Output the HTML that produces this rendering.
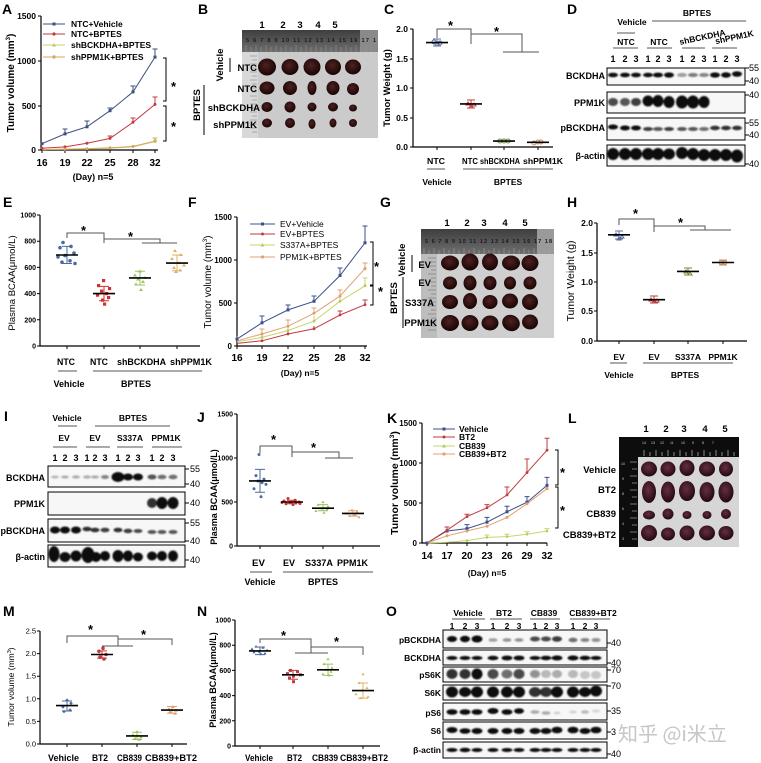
<!DOCTYPE html>
<html><head><meta charset="utf-8">
<style>
html,body{margin:0;padding:0;background:#fff;}
svg{display:block;}
text{font-family:"Liberation Sans","Noto Sans CJK SC",Arial,sans-serif;}
.b{font-weight:bold;}
.n{font-weight:normal;}
</style></head>
<body>
<svg width="761" height="763" viewBox="0 0 761 763" xmlns="http://www.w3.org/2000/svg">
<defs>
<filter id="bl" x="-50%" y="-50%" width="200%" height="200%"><feGaussianBlur stdDeviation="0.9"/></filter>
<radialGradient id="tum" cx="45%" cy="40%" r="60%"><stop offset="0" stop-color="#4e2222"/><stop offset="0.65" stop-color="#2c0e0e"/><stop offset="1" stop-color="#180505"/></radialGradient>
<radialGradient id="tum2" cx="45%" cy="40%" r="60%"><stop offset="0" stop-color="#623040"/><stop offset="0.65" stop-color="#3c1622"/><stop offset="1" stop-color="#220810"/></radialGradient>
<linearGradient id="rul" x1="0" y1="0" x2="0" y2="1"><stop offset="0" stop-color="#3e3e3e"/><stop offset="1" stop-color="#6e6e6e"/></linearGradient>
</defs>
<rect width="761" height="763" fill="#fff"/>

<!-- ================= PANEL A ================= -->
<text x="2" y="14" class="b" font-size="14">A</text>
<path d="M41,16V150H158" fill="none" stroke="#000" stroke-width="1.2"/>
<g stroke="#000" stroke-width="1">
<path d="M38,16H41M38,61H41M38,106H41M38,150H41"/>
<path d="M42,150V153M65,150V153M87,150V153M110,150V153M133,150V153M155,150V153"/>
</g>
<g class="b" font-size="8.5" text-anchor="end">
<text x="36" y="19">1500</text><text x="36" y="64">1000</text><text x="36" y="109">500</text><text x="36" y="153">0</text>
</g>
<g class="b" font-size="10" text-anchor="middle">
<text x="42" y="166">16</text><text x="65" y="166">19</text><text x="87" y="166">22</text><text x="110" y="166">25</text><text x="133" y="166">28</text><text x="155" y="166">32</text>
</g>
<text x="93" y="180" class="b" font-size="9" text-anchor="middle">(Day)  n=5</text>
<text transform="translate(14,83) rotate(-90)" class="b" font-size="10" text-anchor="middle">Tumor volume (mm<tspan font-size="6" dy="-4">3</tspan><tspan dy="4">)</tspan></text>
<g stroke-width="1">
<line x1="43" y1="24" x2="65" y2="24" stroke="#3d4f7c"/><rect x="52.5" y="22.5" width="3" height="3" fill="#3d4f7c"/>
<line x1="43" y1="34" x2="65" y2="34" stroke="#c23b3f"/><circle cx="54" cy="34" r="1.6" fill="#c23b3f"/>
<line x1="43" y1="45" x2="65" y2="45" stroke="#c5d66b"/><path d="M54,43L56,46.5H52Z" fill="#b8cc5a"/>
<line x1="43" y1="57" x2="65" y2="57" stroke="#d9a466"/><circle cx="54" cy="57" r="1.7" fill="#d9a466"/>
</g>
<g class="b" font-size="8.5">
<text x="71" y="27">NTC+Vehicle</text><text x="71" y="37">NTC+BPTES</text><text x="71" y="48">shBCKDHA+BPTES</text><text x="71" y="60">shPPM1K+BPTES</text>
</g>
<g fill="none" stroke-width="1">
<polyline points="42,143.7 65,133.9 87,126.8 110,110.7 133,91.9 155,57.1" stroke="#3d4f7c"/>
<path d="M65,133.9V129M62.5,129H67.5M87,126.8V121M84.5,121H89.5M110,110.7V108M107.5,108H112.5M133,91.9V86M130.5,86H135.5M155,57.1V49M152.5,49H157.5" stroke="#3d4f7c"/>
<polyline points="42,148.2 65,146.9 87,143.3 110,138.4 133,122.3 155,104.4" stroke="#c23b3f"/>
<path d="M133,122.3V118M130.5,118H135.5M155,104.4V97M152.5,97H157.5M110,138.4V136M107.5,136H112.5" stroke="#c23b3f"/>
<polyline points="42,149.6 65,149.3 87,149.1 110,148.2 133,146.9 155,141.5" stroke="#c5d66b"/>
<polyline points="42,149.6 65,149.1 87,148.7 110,147.8 133,146.4 155,141.1" stroke="#d9a466"/>
<path d="M155,141.1V138M152.5,138H157.5" stroke="#d9a466"/>
</g>
<g fill="#3d4f7c"><rect x="40.5" y="142.2" width="3" height="3"/><rect x="63.5" y="132.4" width="3" height="3"/><rect x="85.5" y="125.3" width="3" height="3"/><rect x="108.5" y="109.2" width="3" height="3"/><rect x="131.5" y="90.4" width="3" height="3"/><rect x="153.5" y="55.6" width="3" height="3"/></g>
<g fill="#c23b3f"><circle cx="42" cy="148.2" r="1.5"/><circle cx="65" cy="146.9" r="1.5"/><circle cx="87" cy="143.3" r="1.5"/><circle cx="110" cy="138.4" r="1.5"/><circle cx="133" cy="122.3" r="1.5"/><circle cx="155" cy="104.4" r="1.5"/></g>
<g fill="#d9a466"><circle cx="65" cy="149.1" r="1.5"/><circle cx="87" cy="148.7" r="1.5"/><circle cx="110" cy="147.8" r="1.5"/><circle cx="133" cy="146.4" r="1.5"/><circle cx="155" cy="141.1" r="1.8"/></g>
<g fill="#b8cc5a"><circle cx="155" cy="141.8" r="1.3"/></g>
<path d="M163,58H166V101H163M163,106H166V141H163" fill="none" stroke="#000" stroke-width="1"/>
<text x="171" y="91" class="b" font-size="13">*</text>
<text x="171" y="131" class="b" font-size="13">*</text>

<!-- ================= PANEL B ================= -->
<text x="198" y="14" class="b" font-size="14">B</text>
<g class="b" font-size="9.5" text-anchor="middle">
<text x="262" y="28">1</text><text x="283" y="28">2</text><text x="300" y="28">3</text><text x="318" y="28">4</text><text x="335" y="28">5</text>
</g>
<rect x="242" y="30" width="136" height="108" fill="#cbcbcb"/>
<rect x="242" y="30" width="136" height="22" fill="url(#rul)"/>
<rect x="360" y="30" width="18" height="22" fill="#8a8a8a"/>
<rect x="242" y="52" width="16" height="86" fill="#d8d8d8"/>
<g stroke="#777" stroke-width="0.6"><path d="M250,56H257M252,60H257M250,64H257M252,68H257M250,72H257M252,76H257M250,80H257M252,84H257M250,88H257M252,92H257M250,96H257M252,100H257M250,104H257M252,108H257M250,112H257M252,116H257M250,120H257M252,124H257M250,128H257M252,132H257"/></g>
<g stroke="#999" stroke-width="0.5"><path d="M246,45V52M251,47V52M256,45V52M261,47V52M266,45V52M271,47V52M276,45V52M281,47V52M286,45V52M291,47V52M296,45V52M301,47V52M306,45V52M311,47V52M316,45V52M321,47V52M326,45V52M331,47V52M336,45V52M341,47V52M346,45V52M351,47V52M356,45V52M361,47V52M366,45V52M371,47V52"/></g>
<text x="246" y="42" font-size="5.5" fill="#1a1a1a" class="b" textLength="130" lengthAdjust="spacing">5 6 7 8 9 10 11 12 13 14 15 16 17 1</text>
<g fill="url(#tum)">
<ellipse cx="267" cy="67" rx="9" ry="8.5"/><ellipse cx="290" cy="67" rx="8.5" ry="8"/><ellipse cx="312" cy="67" rx="8.5" ry="8.5"/><ellipse cx="333" cy="67" rx="8" ry="8"/><ellipse cx="353" cy="67" rx="8" ry="7.5"/>
<ellipse cx="267" cy="88" rx="7.5" ry="6.5"/><ellipse cx="290" cy="88" rx="7" ry="7" transform="rotate(35 290 88)"/><ellipse cx="312" cy="88" rx="4.5" ry="7"/><ellipse cx="333" cy="88" rx="6.5" ry="7"/><ellipse cx="353" cy="89" rx="6" ry="6"/>
<ellipse cx="267" cy="107" rx="5.5" ry="5"/><ellipse cx="290" cy="107" rx="5.5" ry="5.5"/><ellipse cx="312" cy="107" rx="4.5" ry="4.5"/><ellipse cx="333" cy="107" rx="5" ry="4.5"/><ellipse cx="353" cy="108" rx="4" ry="3.5"/>
<ellipse cx="267" cy="123" rx="5" ry="4.5"/><ellipse cx="290" cy="123" rx="5" ry="5"/><ellipse cx="312" cy="124" rx="3.5" ry="5"/><ellipse cx="333" cy="123" rx="3.5" ry="4.5"/><ellipse cx="353" cy="123" rx="4" ry="4"/>
</g>
<g class="b" font-size="9.5" text-anchor="end">
<text x="257" y="71">NTC</text><text x="257" y="92">NTC</text><text x="260" y="111">shBCKDHA</text><text x="257" y="128">shPPM1K</text>
</g>
<line x1="230" y1="58" x2="230" y2="72" stroke="#000" stroke-width="1"/>
<text transform="translate(223,65) rotate(-90)" class="b" font-size="9.5" text-anchor="middle">Vehicle</text>
<line x1="204" y1="85" x2="204" y2="135" stroke="#000" stroke-width="1"/>
<text transform="translate(200,105) rotate(-90)" class="b" font-size="9.5" text-anchor="middle">BPTES</text>

<!-- ================= PANEL C ================= -->
<text x="384" y="14" class="b" font-size="14">C</text>
<path d="M413,29V147H553" fill="none" stroke="#000" stroke-width="1.2"/>
<g stroke="#000"><path d="M410,29H413M410,59H413M410,88H413M410,118H413M410,147H413M437,147V150M471,147V150M504,147V150M538,147V150"/></g>
<g class="b" font-size="8.5" text-anchor="end"><text x="408" y="32">2.0</text><text x="408" y="62">1.5</text><text x="408" y="91">1.0</text><text x="408" y="121">0.5</text><text x="408" y="150">0.0</text></g>
<text transform="translate(390,88) rotate(-90)" class="b" font-size="9.5" text-anchor="middle">Tumor Weight (g)</text>
<g stroke-width="1" fill="none">
<path d="M437,39V46M433,39H441M433,46H441" stroke="#5a6fa0"/>
<circle cx="434" cy="42" r="2" stroke="#5a6fa0"/><circle cx="440" cy="43" r="2" stroke="#5a6fa0"/><circle cx="437" cy="44" r="2" stroke="#5a6fa0"/>
<path d="M471,100V108M467,100H475M467,108H475" stroke="#c23b3f"/>
<path d="M468,102l2,3h-4z M474,103l2,3h-4z M471,105l2,3h-4z" stroke="#c23b3f"/>
<circle cx="504" cy="141" r="2" stroke="#6a8a3a"/><circle cx="500" cy="141" r="2" stroke="#6a8a3a"/><circle cx="508" cy="141" r="2" stroke="#6a8a3a"/>
<circle cx="538" cy="142" r="2" stroke="#c09060"/><circle cx="534" cy="143" r="2" stroke="#c09060"/><circle cx="541" cy="142" r="2" stroke="#c09060"/>
</g>
<g stroke="#000" stroke-width="1.6"><path d="M426,42.6H448M460,103.9H482M493,141.1H515M527,142.3H549"/></g>
<g fill="none" stroke="#555" stroke-width="1"><path d="M437,38V29H471V44M471,34H522V52M503,52H539"/></g>
<text x="448" y="30" class="b" font-size="13">*</text>
<text x="494" y="36" class="b" font-size="13">*</text>
<g class="b" font-size="8.5">
<text x="427" y="164" textLength="18" lengthAdjust="spacingAndGlyphs">NTC</text>
<text x="462" y="164" textLength="16" lengthAdjust="spacingAndGlyphs">NTC</text>
<text x="480" y="164" textLength="40" lengthAdjust="spacingAndGlyphs">shBCKDHA</text>
<text x="523" y="164" textLength="40" lengthAdjust="spacingAndGlyphs">shPPM1K</text>
</g>
<g class="b" font-size="8.5" text-anchor="middle"><text x="437" y="185">Vehicle</text><text x="508" y="185">BPTES</text></g>
<path d="M427,169H445M463,169H553" stroke="#555" stroke-width="1"/>

<!-- ================= PANEL D ================= -->
<text x="567" y="14" class="b" font-size="14">D</text>
<g class="b" font-size="8.5" text-anchor="middle">
<text x="632" y="25">Vehicle</text><text x="697" y="16">BPTES</text>
<text x="626" y="45">NTC</text><text x="659" y="45">NTC</text>
<text transform="translate(703,40) rotate(-12)">shBCKDHA</text><text transform="translate(735,40) rotate(-12)">shPPM1K</text>
</g>
<path d="M652,21H746M617,33H635M613,48H638M647,48H672M682,48H705M712,48H737" stroke="#555" stroke-width="1"/>
<g class="b" font-size="9" text-anchor="middle">
<text x="613" y="62">1</text><text x="625" y="62">2</text><text x="636" y="62">3</text><text x="648" y="62">1</text><text x="658" y="62">2</text><text x="669" y="62">3</text><text x="682" y="62">1</text><text x="693" y="62">2</text><text x="704" y="62">3</text><text x="715" y="62">1</text><text x="726" y="62">2</text><text x="737" y="62">3</text>
</g>
<g fill="#f7f7f7" stroke="#000" stroke-width="1"><rect x="607" y="68" width="138" height="17"/><rect x="607" y="92" width="138" height="21"/><rect x="607" y="118" width="138" height="22"/><rect x="607" y="145" width="138" height="21"/></g>
<g fill="#111" filter="url(#bl)">
<ellipse cx="613" cy="75" rx="5" ry="2.3"/><ellipse cx="625" cy="75" rx="5" ry="2.3"/><ellipse cx="636" cy="75" rx="5" ry="2.3"/><ellipse cx="648" cy="75" rx="5" ry="2.2"/><ellipse cx="658" cy="75" rx="5" ry="2.4"/><ellipse cx="669" cy="75" rx="5" ry="2.6"/>
<ellipse cx="682" cy="75" rx="5" ry="2" opacity="0.4"/><ellipse cx="693" cy="75" rx="5" ry="2" opacity="0.55"/><ellipse cx="704" cy="75" rx="5" ry="2" opacity="0.5"/>
<ellipse cx="715" cy="75" rx="5" ry="2.6"/><ellipse cx="726" cy="75" rx="5" ry="2.7"/><ellipse cx="737" cy="74" rx="5" ry="2.8"/>
<ellipse cx="613" cy="102" rx="5" ry="4" opacity="0.75"/><ellipse cx="625" cy="102" rx="5" ry="4" opacity="0.7"/><ellipse cx="636" cy="102" rx="5" ry="4" opacity="0.8"/>
<ellipse cx="648" cy="101" rx="5.5" ry="5.5"/><ellipse cx="658" cy="101" rx="5.5" ry="6"/><ellipse cx="669" cy="102" rx="5.5" ry="6"/>
<ellipse cx="682" cy="102" rx="6" ry="6.5"/><ellipse cx="693" cy="102" rx="6" ry="6.5"/><ellipse cx="704" cy="102" rx="5.5" ry="6"/>
<ellipse cx="613" cy="127" rx="5" ry="2.5"/><ellipse cx="625" cy="128" rx="5" ry="2.5"/><ellipse cx="636" cy="128" rx="5" ry="2.5"/><ellipse cx="648" cy="129" rx="5" ry="2" opacity="0.8"/><ellipse cx="658" cy="129" rx="5" ry="2" opacity="0.7"/><ellipse cx="669" cy="129" rx="5" ry="2" opacity="0.8"/><ellipse cx="682" cy="129" rx="5" ry="2" opacity="0.7"/><ellipse cx="693" cy="129" rx="5" ry="2" opacity="0.7"/><ellipse cx="704" cy="129" rx="5" ry="2" opacity="0.6"/><ellipse cx="715" cy="128" rx="5" ry="2.2" opacity="0.85"/><ellipse cx="726" cy="128" rx="5" ry="2.2" opacity="0.85"/><ellipse cx="737" cy="128" rx="5" ry="2.2" opacity="0.85"/>
<ellipse cx="613" cy="154" rx="6" ry="6"/><ellipse cx="625" cy="154" rx="6" ry="6"/><ellipse cx="636" cy="154" rx="6" ry="6"/><ellipse cx="648" cy="154" rx="6" ry="6"/><ellipse cx="658" cy="154" rx="6" ry="6"/><ellipse cx="669" cy="154" rx="6" ry="5.5"/><ellipse cx="682" cy="153" rx="6" ry="6"/><ellipse cx="693" cy="154" rx="6" ry="6"/><ellipse cx="704" cy="155" rx="6" ry="6"/><ellipse cx="715" cy="155" rx="6" ry="6"/><ellipse cx="726" cy="155" rx="6" ry="6"/><ellipse cx="737" cy="156" rx="6" ry="6.5"/>
</g>
<g class="b" font-size="9" text-anchor="end"><text x="605" y="79">BCKDHA</text><text x="605" y="106">PPM1K</text><text x="605" y="131">pBCKDHA</text><text x="605" y="159">β-actin</text></g>
<g stroke="#000" stroke-width="1"><path d="M745,68H749M745,81H749M745,95H749M745,123H749M745,135H749M745,164H749"/></g>
<g font-size="9" class="n"><text x="749" y="71">55</text><text x="749" y="84">40</text><text x="749" y="98">40</text><text x="749" y="126">55</text><text x="749" y="138">40</text><text x="749" y="167">40</text></g>

<!-- ================= PANEL E ================= -->
<text x="3" y="207" class="b" font-size="14">E</text>
<path d="M40,215V346H200" fill="none" stroke="#000" stroke-width="1.2"/>
<g stroke="#000"><path d="M37,215H40M37,241.2H40M37,267.4H40M37,293.6H40M37,319.8H40M37,346H40M67,346V349M104,346V349M140,346V349M177,346V349"/></g>
<g class="b" font-size="7" text-anchor="end"><text x="36" y="217.5">1000</text><text x="36" y="243.7">800</text><text x="36" y="269.9">600</text><text x="36" y="296">400</text><text x="36" y="322.3">200</text><text x="36" y="348.5">0</text></g>
<text transform="translate(15,283) rotate(-90)" class="n" font-size="9.5" text-anchor="middle">Plasma BCAA(μmol/L)</text>
<g fill="#4a6aa0"><circle cx="63" cy="242.5" r="1.8"/><circle cx="71" cy="246.4" r="1.8"/><circle cx="60" cy="247.7" r="1.8"/><circle cx="74" cy="253" r="1.8"/><circle cx="65" cy="255.6" r="1.8"/><circle cx="58" cy="256.9" r="1.8"/><circle cx="70" cy="260.8" r="1.8"/><circle cx="62" cy="262.2" r="1.8"/><circle cx="75" cy="263.5" r="1.8"/></g>
<g fill="#d03030"><rect x="102" y="279" width="3.2" height="3.2"/><rect x="97" y="284" width="3.2" height="3.2"/><rect x="108" y="287" width="3.2" height="3.2"/><rect x="100" y="289.5" width="3.2" height="3.2"/><rect x="105" y="292" width="3.2" height="3.2"/><rect x="96" y="293.5" width="3.2" height="3.2"/><rect x="107" y="296" width="3.2" height="3.2"/><rect x="101" y="298.5" width="3.2" height="3.2"/><rect x="103" y="302.5" width="3.2" height="3.2"/></g>
<g fill="#9cc45c"><path d="M140,269.5l2,3h-4zM135,273.5l2,3h-4zM145,276l2,3h-4zM138,277.5l2,3h-4zM143,280l2,3h-4zM136,282.5l2,3h-4zM141,288l2,3h-4z"/></g>
<g fill="#e0b060"><path d="M175,249l2,3h-4zM181,253l2,3h-4zM172,257l2,3h-4zM179,261l2,3h-4zM184,263.5l2,3h-4zM174,266l2,3h-4zM180,268.5l2,3h-4zM176,270l2,3h-4z"/></g>
<g stroke="#4a6aa0" stroke-width="1"><path d="M67,246.4V263.5M62,246.4H72M62,263.5H72"/></g>
<g stroke="#d03030" stroke-width="1"><path d="M104,286.4V300.8M99,286.4H109M99,300.8H109"/></g>
<g stroke="#9cc45c" stroke-width="1"><path d="M140,271.3V285M135,271.3H145M135,285H145"/></g>
<g stroke="#e0b060" stroke-width="1"><path d="M177,255V270.7M172,255H182M172,270.7H182"/></g>
<g stroke="#000" stroke-width="1.6"><path d="M56,255H78M93,293.6H115M129,277.9H151M166,263.1H188"/></g>
<g fill="none" stroke="#555" stroke-width="1"><path d="M67,238V233H104V243M104,239H160V243M142,243H177"/></g>
<text x="81" y="235" class="b" font-size="13">*</text>
<text x="128" y="241" class="b" font-size="13">*</text>
<g class="b" font-size="9">
<text x="57" y="365" textLength="18" lengthAdjust="spacingAndGlyphs">NTC</text>
<text x="90" y="365" textLength="18" lengthAdjust="spacingAndGlyphs">NTC</text>
<text x="117" y="365" textLength="49" lengthAdjust="spacingAndGlyphs">shBCKDHA</text>
<text x="170" y="365" textLength="42" lengthAdjust="spacingAndGlyphs">shPPM1K</text>
</g>
<g class="b" font-size="9" text-anchor="middle"><text x="69" y="387">Vehicle</text><text x="136" y="387">BPTES</text></g>
<path d="M58,371H77M93,371H202" stroke="#555" stroke-width="1"/>

<!-- ================= PANEL F ================= -->
<text x="188" y="207" class="b" font-size="14">F</text>
<path d="M237,217V346H367" fill="none" stroke="#000" stroke-width="1.2"/>
<g stroke="#000"><path d="M234,217H237M234,260H237M234,303H237M234,346H237M237,346V349M262,346V349M288,346V349M314,346V349M340,346V349M365,346V349"/></g>
<g class="b" font-size="8" text-anchor="end"><text x="232" y="220">1500</text><text x="232" y="263">1000</text><text x="232" y="306">500</text><text x="232" y="349">0</text></g>
<g class="b" font-size="10" text-anchor="middle"><text x="237" y="361">16</text><text x="262" y="361">19</text><text x="288" y="361">22</text><text x="314" y="361">25</text><text x="340" y="361">28</text><text x="365" y="361">32</text></g>
<text x="300" y="376" class="b" font-size="8.5" text-anchor="middle">(Day)  n=5</text>
<text transform="translate(211,282) rotate(-90)" class="n" font-size="10" text-anchor="middle">Tumor volume (mm<tspan font-size="6" dy="-4">3</tspan><tspan dy="4">)</tspan></text>
<g stroke-width="1">
<line x1="250" y1="224" x2="275" y2="224" stroke="#3d4f8c"/><rect x="261" y="222.5" width="3" height="3" fill="#3d4f8c"/>
<line x1="250" y1="234" x2="275" y2="234" stroke="#c23b3f"/><circle cx="262.5" cy="234" r="1.5" fill="#c23b3f"/>
<line x1="250" y1="245" x2="275" y2="245" stroke="#c5d66b"/><path d="M262.5,243L264.5,246.5H260.5Z" fill="#b8cc5a"/>
<line x1="250" y1="257" x2="275" y2="257" stroke="#e0a070"/><circle cx="262.5" cy="257" r="1.6" fill="#e0a070"/>
</g>
<g class="n" font-size="8.5"><text x="280" y="227">EV+Vehicle</text><text x="280" y="237">EV+BPTES</text><text x="280" y="248">S337A+BPTES</text><text x="280" y="260">PPM1K+BPTES</text></g>
<g fill="none" stroke-width="1">
<polyline points="237,339.1 262,322.8 288,309.9 314,301.3 340,275.5 365,242.8" stroke="#3d4f8c"/>
<path d="M237,339.1V335.7M262,322.8V316M259.5,316H264.5M288,309.9V305M285.5,305H290.5M314,301.3V296M311.5,296H316.5M340,275.5V268M337.5,268H342.5M365,242.8V226M362.5,226H367.5" stroke="#3d4f8c"/>
<polyline points="237,343.4 262,340.8 288,334 314,328.8 340,315 365,304.7" stroke="#c23b3f"/>
<path d="M340,315V311M337.5,311H342.5M365,304.7V300M362.5,300H367.5M314,328.8V326M288,334V331" stroke="#c23b3f"/>
<polyline points="237,341.7 262,337.4 288,330.5 314,321.1 340,301.3 365,285.8" stroke="#c5d66b"/>
<path d="M262,337.4V333M288,330.5V325M314,321.1V316M340,301.3V296M365,285.8V278M362.5,278H367.5" stroke="#c5d66b"/>
<polyline points="237,340.8 262,334 288,326.2 314,313.3 340,296.1 365,268.6" stroke="#e0a070"/>
<path d="M262,334V329M259.5,329H264.5M288,326.2V320M285.5,320H290.5M314,313.3V308M311.5,308H316.5M340,296.1V290M337.5,290H342.5M365,268.6V263M362.5,263H367.5" stroke="#e0a070"/>
</g>
<g fill="#3d4f8c"><rect x="235.5" y="337.6" width="3" height="3"/><rect x="260.5" y="321.3" width="3" height="3"/><rect x="286.5" y="308.4" width="3" height="3"/><rect x="312.5" y="299.8" width="3" height="3"/><rect x="338.5" y="274" width="3" height="3"/><rect x="363.5" y="241.3" width="3" height="3"/></g>
<g fill="#c23b3f"><circle cx="262" cy="340.8" r="1.4"/><circle cx="288" cy="334" r="1.4"/><circle cx="314" cy="328.8" r="1.4"/><circle cx="340" cy="315" r="1.4"/><circle cx="365" cy="304.7" r="1.4"/></g>
<g fill="#b8cc5a"><circle cx="262" cy="337.4" r="1.4"/><circle cx="288" cy="330.5" r="1.4"/><circle cx="314" cy="321.1" r="1.4"/><circle cx="340" cy="301.3" r="1.4"/><circle cx="365" cy="285.8" r="1.5"/></g>
<g fill="#e0a070"><circle cx="262" cy="334" r="1.5"/><circle cx="288" cy="326.2" r="1.5"/><circle cx="314" cy="313.3" r="1.5"/><circle cx="340" cy="296.1" r="1.5"/><circle cx="365" cy="268.6" r="1.6"/></g>
<path d="M370,242H373V285H370M370,286H373V305H370" fill="none" stroke="#000" stroke-width="1"/>
<text x="374" y="271" class="b" font-size="13">*</text>
<text x="378" y="296" class="b" font-size="13">*</text>

<!-- ================= PANEL G ================= -->
<text x="380" y="207" class="b" font-size="14">G</text>
<g class="b" font-size="9.5" text-anchor="middle"><text x="447" y="226">1</text><text x="467" y="226">2</text><text x="484" y="226">3</text><text x="505" y="226">4</text><text x="525" y="226">5</text></g>
<rect x="421" y="229" width="133" height="109" fill="#cfcfcf"/>
<rect x="421" y="229" width="133" height="25" fill="url(#rul)"/>
<rect x="537" y="229" width="17" height="25" fill="#9a9a9a"/>
<rect x="421" y="254" width="16" height="84" fill="#bdbdbd"/>
<g stroke="#666" stroke-width="0.6"><path d="M428,258H436M431,262H436M428,266H436M431,270H436M428,274H436M431,278H436M428,282H436M431,286H436M428,290H436M431,294H436M428,298H436M431,302H436M428,306H436M431,310H436M428,314H436M431,318H436M428,322H436M431,326H436M428,330H436"/></g>
<text x="425" y="243" font-size="5.5" fill="#1a1a1a" class="b" textLength="127" lengthAdjust="spacing">5 6 7 8 9 10 11 12 13 14 15 16 17 18</text>
<g stroke="#aaa" stroke-width="0.5"><path d="M424,248V254M429,250V254M434,248V254M439,250V254M444,248V254M449,250V254M454,248V254M459,250V254M464,248V254M469,250V254M474,248V254M479,250V254M484,248V254M489,250V254M494,248V254M499,250V254M504,248V254M509,250V254M514,248V254M519,250V254M524,248V254M529,250V254M534,248V254M539,250V254M544,248V254M549,250V254"/></g>
<g fill="url(#tum)">
<ellipse cx="450" cy="263" rx="9" ry="7.5"/><ellipse cx="470" cy="262" rx="8.5" ry="8.5"/><ellipse cx="490" cy="262" rx="8" ry="8.5"/><ellipse cx="511" cy="263" rx="9" ry="7.5"/><ellipse cx="530" cy="263" rx="8.5" ry="8"/>
<ellipse cx="450" cy="283" rx="7" ry="6.5"/><ellipse cx="470" cy="283" rx="6.5" ry="7.5"/><ellipse cx="490" cy="283" rx="6.5" ry="7"/><ellipse cx="510" cy="283" rx="6" ry="6.5"/><ellipse cx="530" cy="283" rx="6.5" ry="6.5"/>
<ellipse cx="450" cy="302" rx="8" ry="7"/><ellipse cx="470" cy="301" rx="7" ry="8"/><ellipse cx="490" cy="302" rx="7.5" ry="7"/><ellipse cx="510" cy="301" rx="8" ry="7.5"/><ellipse cx="530" cy="302" rx="8" ry="8"/>
<ellipse cx="450" cy="323" rx="9" ry="8"/><ellipse cx="470" cy="323" rx="8.5" ry="8"/><ellipse cx="490" cy="323" rx="8.5" ry="7.5"/><ellipse cx="511" cy="323" rx="9" ry="8" transform="rotate(25 511 323)"/><ellipse cx="530" cy="322" rx="8" ry="7.5"/>
</g>
<g class="b" font-size="9.5" text-anchor="end"><text x="431" y="268">EV</text><text x="431" y="286">EV</text><text x="434" y="306">S337A</text><text x="437" y="326">PPM1K</text></g>
<line x1="412" y1="255" x2="412" y2="272" stroke="#000" stroke-width="1"/>
<text transform="translate(405,260) rotate(-90)" class="b" font-size="9.5" text-anchor="middle">Vehicle</text>
<line x1="403" y1="277" x2="403" y2="328" stroke="#000" stroke-width="1"/>
<text transform="translate(397,298) rotate(-90)" class="b" font-size="9.5" text-anchor="middle">BPTES</text>

<!-- ================= PANEL H ================= -->
<text x="567" y="207" class="b" font-size="14">H</text>
<path d="M597,223V341H747" fill="none" stroke="#000" stroke-width="1.2"/>
<g stroke="#000"><path d="M594,223H597M594,253H597M594,282H597M594,311H597M594,341H597M619,341V344M654,341V344M688,341V344M723,341V344"/></g>
<g class="b" font-size="8.5" text-anchor="end"><text x="593" y="226">2.0</text><text x="593" y="256">1.5</text><text x="593" y="285">1.0</text><text x="593" y="314">0.5</text><text x="593" y="344">0.0</text></g>
<text transform="translate(574,281) rotate(-90)" class="n" font-size="10.5" text-anchor="middle">Tumor Weight (g)</text>
<g fill="none" stroke-width="1">
<path d="M619,231V239M615,231H623M615,239H623" stroke="#5a6fa0"/><path d="M616,233l2,3h-4zM622,235l2,3h-4zM619,237l2,3h-4z" stroke="#5a6fa0"/>
<path d="M654,296V303M650,296H658M650,303H658" stroke="#c23b3f"/><path d="M651,298l2,3h-4zM657,299l2,3h-4zM654,300l2,3h-4z" stroke="#c23b3f"/>
<path d="M688,268V275M684,268H692M684,275H692" stroke="#6a8a3a"/><path d="M686,270l2,3h-4zM690,272l2,3h-4z" stroke="#6a8a3a"/>
<path d="M723,260V265M719,260H727M719,265H727" stroke="#c09060"/><circle cx="721" cy="262.5" r="1.8" stroke="#c09060"/><circle cx="725" cy="262.5" r="1.8" stroke="#c09060"/>
</g>
<g stroke="#000" stroke-width="1.6"><path d="M608,234.8H630M643,299.7H665M677,271.4H699M712,262.5H734"/></g>
<g fill="none" stroke="#555" stroke-width="1"><path d="M619,225V219H654V232M654,226H705V230M690,230H731"/></g>
<text x="633" y="218" class="b" font-size="13">*</text>
<text x="678" y="227" class="b" font-size="13">*</text>
<g class="b" font-size="8.5" text-anchor="middle"><text x="619" y="360">EV</text><text x="654" y="360">EV</text><text x="688" y="360">S337A</text><text x="723" y="360">PPM1K</text><text x="619" y="378">Vehicle</text><text x="685" y="378">BPTES</text></g>
<path d="M610,363H627M643,363H733" stroke="#555" stroke-width="1"/>

<!-- ================= PANEL I ================= -->
<text x="4" y="421" class="b" font-size="14">I</text>
<g class="b" font-size="8.5" text-anchor="middle">
<text x="67" y="421">Vehicle</text><text x="133" y="421">BPTES</text>
<text x="64" y="441">EV</text><text x="95" y="441">EV</text><text x="130" y="441">S337A</text><text x="166" y="441">PPM1K</text>
</g>
<path d="M58,426H77M95,426H170M53,447H77M86,447H110M117,447H143M152,447H182" stroke="#555" stroke-width="1"/>
<g class="b" font-size="9" text-anchor="middle">
<text x="55" y="461">1</text><text x="65" y="461">2</text><text x="76" y="461">3</text><text x="87" y="461">1</text><text x="95" y="461">2</text><text x="105" y="461">3</text><text x="118" y="461">1</text><text x="128" y="461">2</text><text x="138" y="461">3</text><text x="152" y="461">1</text><text x="162" y="461">2</text><text x="173" y="461">3</text>
</g>
<g fill="#f7f7f7" stroke="#000" stroke-width="1"><rect x="48" y="466" width="137" height="21"/><rect x="48" y="492" width="137" height="23"/><rect x="48" y="519" width="137" height="23"/><rect x="48" y="545" width="137" height="22"/></g>
<g fill="#111" filter="url(#bl)">
<ellipse cx="55" cy="477" rx="4" ry="1.5" opacity="0.25"/><ellipse cx="65" cy="477" rx="4" ry="1.5" opacity="0.3"/><ellipse cx="76" cy="477" rx="4" ry="1.5" opacity="0.35"/><ellipse cx="87" cy="477" rx="4" ry="1.5" opacity="0.35"/><ellipse cx="95" cy="477" rx="4" ry="1.5" opacity="0.35"/><ellipse cx="105" cy="477" rx="4" ry="2" opacity="0.5"/>
<ellipse cx="118" cy="477" rx="6.5" ry="5"/><ellipse cx="128" cy="477" rx="5" ry="3.5"/><ellipse cx="138" cy="477" rx="5" ry="3.5"/><ellipse cx="152" cy="477" rx="4.5" ry="2.5" opacity="0.7"/><ellipse cx="162" cy="477" rx="4.5" ry="2.2" opacity="0.6"/><ellipse cx="173" cy="477" rx="4.5" ry="2.2" opacity="0.6"/>
<ellipse cx="152" cy="503" rx="5" ry="5" opacity="0.85"/><ellipse cx="162" cy="503" rx="5.5" ry="6"/><ellipse cx="173" cy="503" rx="5.5" ry="6"/>
<ellipse cx="55" cy="530" rx="5" ry="3.5"/><ellipse cx="65" cy="530" rx="5" ry="3.5"/><ellipse cx="76" cy="530" rx="5" ry="3.5"/><ellipse cx="87" cy="529" rx="4.5" ry="2.3" opacity="0.85"/><ellipse cx="95" cy="530" rx="4.5" ry="2.3" opacity="0.85"/><ellipse cx="105" cy="530" rx="4.5" ry="2.3" opacity="0.8"/><ellipse cx="118" cy="530" rx="4.5" ry="2.3" opacity="0.85"/><ellipse cx="128" cy="531" rx="4.5" ry="2.2" opacity="0.8"/><ellipse cx="138" cy="531" rx="4.5" ry="2" opacity="0.75"/><ellipse cx="152" cy="532" rx="4.5" ry="2" opacity="0.7"/><ellipse cx="162" cy="532" rx="4.5" ry="2" opacity="0.7"/><ellipse cx="173" cy="532" rx="4.5" ry="2" opacity="0.7"/>
<ellipse cx="54" cy="554" rx="5.5" ry="8"/><ellipse cx="65" cy="557" rx="5.5" ry="5"/><ellipse cx="76" cy="556" rx="5.5" ry="5.5"/><ellipse cx="88" cy="555" rx="6.5" ry="8"/><ellipse cx="96" cy="557" rx="5" ry="5"/><ellipse cx="105" cy="556" rx="5" ry="5"/><ellipse cx="118" cy="556" rx="5.5" ry="6"/><ellipse cx="128" cy="556" rx="5" ry="5.5"/><ellipse cx="138" cy="557" rx="5" ry="4.5"/><ellipse cx="152" cy="556" rx="5" ry="4.5"/><ellipse cx="162" cy="556" rx="5" ry="5"/><ellipse cx="173" cy="556" rx="5" ry="5.5"/>
</g>
<g class="b" font-size="9" text-anchor="end"><text x="45" y="481">BCKDHA</text><text x="45" y="507">PPM1K</text><text x="45" y="534">pBCKDHA</text><text x="45" y="560">β-actin</text></g>
<g stroke="#000" stroke-width="1"><path d="M185,469H189M185,484H189M185,503H189M185,523H189M185,541H189M185,560H189"/></g>
<g font-size="9" class="n"><text x="190" y="472">55</text><text x="190" y="487">40</text><text x="190" y="506">40</text><text x="190" y="526">55</text><text x="190" y="544">40</text><text x="190" y="563">40</text></g>

<!-- ================= PANEL J ================= -->
<text x="197" y="422" class="b" font-size="14">J</text>
<path d="M237,414V546H380" fill="none" stroke="#000" stroke-width="1.2"/>
<g stroke="#000"><path d="M234,414H237M234,458H237M234,502H237M234,546H237M260,546V549M292,546V549M323,546V549M353,546V549"/></g>
<g class="b" font-size="7" text-anchor="end"><text x="233" y="416.5">1500</text><text x="233" y="460.5">1000</text><text x="233" y="504.5">500</text><text x="233" y="548.5">0</text></g>
<text transform="translate(217,497) rotate(-90)" class="b" font-size="9" text-anchor="middle">Plasma BCAA(μmol/L)</text>
<g fill="#4a6aa0"><circle cx="259" cy="454.5" r="1.5"/><circle cx="256" cy="475.6" r="1.5"/><circle cx="264" cy="479.1" r="1.5"/><circle cx="258" cy="481" r="1.5"/><circle cx="262" cy="482.6" r="1.5"/><circle cx="266" cy="484.4" r="1.5"/><circle cx="254" cy="488.8" r="1.5"/><circle cx="261" cy="496.7" r="1.5"/></g>
<g stroke="#4a6aa0" stroke-width="1"><path d="M260,469.4V492.3M255,469.4H265M255,492.3H265"/></g>
<g fill="#d03030"><circle cx="288" cy="498.5" r="1.5"/><circle cx="295" cy="500.2" r="1.5"/><circle cx="284" cy="501" r="1.5"/><circle cx="299" cy="502" r="1.5"/><circle cx="290" cy="502.5" r="1.5"/><circle cx="296" cy="503" r="1.5"/><circle cx="286" cy="503.8" r="1.5"/><circle cx="293" cy="504.6" r="1.5"/><circle cx="300" cy="503.5" r="1.5"/><circle cx="282" cy="502.5" r="1.5"/></g>
<g stroke="#d03030" stroke-width="1"><path d="M292,500.2V503.8M287,500.2H297M287,503.8H297"/></g>
<g fill="#9cc45c"><path d="M323,500.5l1.6,2.6h-3.2zM318,503.2l1.6,2.6h-3.2zM328,505l1.6,2.6h-3.2zM321,506.8l1.6,2.6h-3.2zM327,507.6l1.6,2.6h-3.2zM316,509.4l1.6,2.6h-3.2zM324,511.2l1.6,2.6h-3.2z"/></g>
<g stroke="#9cc45c" stroke-width="1"><path d="M323,504.6V510.8M318,504.6H328M318,510.8H328"/></g>
<g fill="#e0a070"><path d="M352,508.5l1.6,2.6h-3.2zM357,510.3l1.6,2.6h-3.2zM347,512l1.6,2.6h-3.2zM355,513l1.6,2.6h-3.2zM350,514.2l1.6,2.6h-3.2zM359,515.6l1.6,2.6h-3.2z"/></g>
<g stroke="#e0a070" stroke-width="1"><path d="M353,510.8V516.1M348,510.8H358M348,516.1H358"/></g>
<g stroke="#000" stroke-width="1.6"><path d="M249,480.9H271M281,502H303M312,508.2H334M342,513.4H364"/></g>
<g fill="none" stroke="#555" stroke-width="1"><path d="M260,453V446H292V457M292,452H339V458M325,458H353"/></g>
<text x="271" y="444" class="b" font-size="13">*</text>
<text x="311" y="452" class="b" font-size="13">*</text>
<g class="b" font-size="9">
<text x="252" y="566" textLength="13" lengthAdjust="spacingAndGlyphs">EV</text>
<text x="283" y="566" textLength="12" lengthAdjust="spacingAndGlyphs">EV</text>
<text x="305" y="566" textLength="28" lengthAdjust="spacingAndGlyphs">S337A</text>
<text x="337" y="566" textLength="31" lengthAdjust="spacingAndGlyphs">PPM1K</text>
</g>
<g class="b" font-size="9" text-anchor="middle"><text x="260" y="585">Vehicle</text><text x="323" y="585">BPTES</text></g>
<path d="M250,572H272M283,572H373" stroke="#555" stroke-width="1"/>

<!-- ================= PANEL K ================= -->
<text x="387" y="423" class="b" font-size="14">K</text>
<path d="M422,423V543H547" fill="none" stroke="#000" stroke-width="1.2"/>
<g stroke="#000"><path d="M419,423H422M419,463H422M419,503H422M419,543H422M427,543V546M447,543V546M467,543V546M487,543V546M507,543V546M527,543V546M547,543V546"/></g>
<g class="b" font-size="8" text-anchor="end"><text x="417" y="426">1500</text><text x="417" y="466">1000</text><text x="417" y="506">500</text><text x="417" y="546">0</text></g>
<g class="b" font-size="10" text-anchor="middle"><text x="427" y="559">14</text><text x="447" y="559">17</text><text x="467" y="559">20</text><text x="487" y="559">23</text><text x="507" y="559">26</text><text x="527" y="559">29</text><text x="547" y="559">32</text></g>
<text x="487" y="576" class="b" font-size="8.5" text-anchor="middle">(Day)  n=5</text>
<text transform="translate(398,483) rotate(-90)" class="b" font-size="10.5" text-anchor="middle">Tumor volume (mm<tspan font-size="6.5" dy="-4">3</tspan><tspan dy="4">)</tspan></text>
<g stroke-width="1">
<line x1="433" y1="429" x2="455" y2="429" stroke="#3d4f8c"/><rect x="442.5" y="427.5" width="3" height="3" fill="#3d4f8c"/>
<line x1="433" y1="437" x2="455" y2="437" stroke="#c23b3f"/><circle cx="444" cy="437" r="1.5" fill="#c23b3f"/>
<line x1="433" y1="446" x2="455" y2="446" stroke="#c5d66b"/><path d="M444,444L446,447.5H442Z" fill="#b8cc5a"/>
<line x1="433" y1="454" x2="455" y2="454" stroke="#e0a070"/><circle cx="444" cy="454" r="1.6" fill="#e0a070"/>
</g>
<g class="b" font-size="8.5"><text x="459" y="432">Vehicle</text><text x="459" y="440">BT2</text><text x="459" y="449">CB839</text><text x="459" y="457">CB839+BT2</text></g>
<g fill="none" stroke-width="1">
<polyline points="427,543 447,531 467,528.6 487,522.2 507,511.8 527,502.2 547,485.4" stroke="#3d4f8c"/>
<path d="M447,531V527M467,528.6V524.6M464.5,524.6H469.5M487,522.2V517.4M484.5,517.4H489.5M507,511.8V506.2M504.5,506.2H509.5M527,502.2V496.6M524.5,496.6H529.5M547,485.4V477.4M544.5,477.4H549.5" stroke="#3d4f8c"/>
<polyline points="427,543 447,530.2 467,516.6 487,507.8 507,495 527,472.6 547,450.2" stroke="#c23b3f"/>
<path d="M447,530.2V527M444.5,527H449.5M467,516.6V514.2M464.5,514.2H469.5M487,507.8V504.6M484.5,504.6H489.5M507,495V487M504.5,487H509.5M527,472.6V459M524.5,459H529.5M547,450.2V438.2M544.5,438.2H549.5" stroke="#c23b3f"/>
<polyline points="427,543 447,542.2 467,540.6 487,537.4 507,536.6 527,534.2 547,531" stroke="#c5d66b"/>
<path d="M487,537.4V535M484.5,535H489.5M507,536.6V534.2M504.5,534.2H509.5M527,534.2V531.8M524.5,531.8H529.5M547,531V528.6M544.5,528.6H549.5" stroke="#c5d66b"/>
<polyline points="427,543 447,535.8 467,531 487,526.2 507,517.4 527,503.8 547,488.6" stroke="#e0a070"/>
</g>
<g fill="#3d4f8c"><rect x="425.5" y="541.5" width="3" height="3"/><rect x="445.5" y="529.5" width="3" height="3"/><rect x="465.5" y="527.1" width="3" height="3"/><rect x="485.5" y="520.7" width="3" height="3"/><rect x="505.5" y="510.3" width="3" height="3"/><rect x="525.5" y="500.7" width="3" height="3"/><rect x="545.5" y="483.9" width="3" height="3"/></g>
<g fill="#c23b3f"><circle cx="447" cy="530.2" r="1.4"/><circle cx="467" cy="516.6" r="1.4"/><circle cx="487" cy="507.8" r="1.4"/><circle cx="507" cy="495" r="1.4"/><circle cx="527" cy="472.6" r="1.4"/><circle cx="547" cy="450.2" r="1.4"/></g>
<g fill="#b8cc5a"><circle cx="467" cy="540.6" r="1.3"/><circle cx="487" cy="537.4" r="1.3"/><circle cx="507" cy="536.6" r="1.3"/><circle cx="527" cy="534.2" r="1.3"/><circle cx="547" cy="531" r="1.3"/></g>
<g fill="#e0a070"><circle cx="447" cy="535.8" r="1.5"/><circle cx="467" cy="531" r="1.5"/><circle cx="487" cy="526.2" r="1.5"/><circle cx="507" cy="517.4" r="1.5"/><circle cx="527" cy="503.8" r="1.5"/><circle cx="547" cy="488.6" r="1.6"/></g>
<path d="M555,450H558V485H555M555,487H558V528H555" fill="none" stroke="#000" stroke-width="1"/>
<text x="560" y="477" class="b" font-size="13">*</text>
<text x="560" y="515" class="b" font-size="13">*</text>

<!-- ================= PANEL L ================= -->
<text x="568" y="423" class="b" font-size="14">L</text>
<g class="b" font-size="9.5" text-anchor="middle"><text x="646" y="432">1</text><text x="666" y="432">2</text><text x="684" y="432">3</text><text x="705" y="432">4</text><text x="725" y="432">5</text></g>
<rect x="619" y="437" width="120" height="110" fill="#d6d6d6"/>
<rect x="619" y="437" width="120" height="20" fill="#0d0d0d"/>
<rect x="619" y="437" width="19" height="110" fill="#0d0d0d"/>
<g stroke="#ddd" stroke-width="0.6"><path d="M644,450V456M650,452V456M656,450V456M662,452V456M668,450V456M674,452V456M680,450V456M686,452V456M692,450V456M698,452V456M704,450V456M710,452V456M716,450V456M722,452V456M728,450V456M734,452V456"/>
<path d="M630,462H637M632,469H637M630,476H637M632,483H637M630,490H637M632,497H637M630,504H637M632,511H637M630,518H637M632,525H637M630,532H637M632,539H637"/></g>
<g fill="#ccc" font-size="3.5" class="n"><text x="642" y="444">14</text><text x="651" y="444">13</text><text x="660" y="444">12</text><text x="670" y="444">11</text><text x="681" y="444">10</text><text x="692" y="444">9</text><text x="702" y="444">8</text><text x="712" y="444">7</text>
<text x="621" y="465">10</text><text x="622" y="480">9</text><text x="622" y="495">8</text><text x="622" y="510">6</text><text x="622" y="525">4</text><text x="622" y="540">3</text></g>
<g fill="url(#tum2)">
<ellipse cx="649" cy="469" rx="8" ry="7.5"/><ellipse cx="668" cy="469" rx="7.5" ry="7.5"/><ellipse cx="687" cy="468" rx="7.5" ry="8"/><ellipse cx="707" cy="469" rx="8" ry="7.5"/><ellipse cx="726" cy="469" rx="7" ry="7.5"/>
<ellipse cx="649" cy="492" rx="7" ry="11"/><ellipse cx="668" cy="492" rx="7" ry="10.5"/><ellipse cx="687" cy="491" rx="8" ry="10"/><ellipse cx="707" cy="492" rx="7.5" ry="10"/><ellipse cx="726" cy="492" rx="7.5" ry="10.5"/>
<ellipse cx="649" cy="515" rx="6" ry="4.5"/><ellipse cx="668" cy="514" rx="5.5" ry="5.5"/><ellipse cx="687" cy="515" rx="4.5" ry="4"/><ellipse cx="707" cy="515" rx="4.5" ry="4"/><ellipse cx="726" cy="514" rx="5" ry="5"/>
<ellipse cx="649" cy="533" rx="8" ry="8"/><ellipse cx="668" cy="534" rx="7" ry="6.5"/><ellipse cx="687" cy="533" rx="7.5" ry="7.5"/><ellipse cx="707" cy="533" rx="8" ry="7.5"/><ellipse cx="726" cy="533" rx="7.5" ry="7"/>
</g>
<g class="b" font-size="9.5" text-anchor="end"><text x="616" y="473">Vehicle</text><text x="616" y="493">BT2</text><text x="616" y="517">CB839</text><text x="616" y="538">CB839+BT2</text></g>

<!-- ================= PANEL M ================= -->
<text x="3" y="616" class="b" font-size="14">M</text>
<path d="M40,631V744H187" fill="none" stroke="#000" stroke-width="1.2"/>
<g stroke="#000"><path d="M37,631H40M37,653.6H40M37,676.2H40M37,698.8H40M37,721.4H40M37,744H40M67,744V747M102,744V747M137,744V747M172,744V747"/></g>
<g class="n" font-size="7.5" text-anchor="end"><text x="36" y="633.5">2.5</text><text x="36" y="656">2.0</text><text x="36" y="678.7">1.5</text><text x="36" y="701.3">1.0</text><text x="36" y="724">0.5</text><text x="36" y="746.5">0.0</text></g>
<text transform="translate(14,687) rotate(-90)" class="n" font-size="8.5" text-anchor="middle">Tumor volume (mm<tspan font-size="5.5" dy="-3">3</tspan><tspan dy="3">)</tspan></text>
<g fill="#4a6aa0"><path d="M67,698.4l1.8,1.8l-1.8,1.8l-1.8,-1.8zM71,701.5l1.8,1.8l-1.8,1.8l-1.8,-1.8zM63,705.1l1.8,1.8l-1.8,1.8l-1.8,-1.8zM70,708.3l1.8,1.8l-1.8,1.8l-1.8,-1.8zM64,709.7l1.8,1.8l-1.8,1.8l-1.8,-1.8z"/></g>
<g stroke="#4a6aa0" stroke-width="1"><path d="M67,701V711M62,701H72M62,711H72"/></g>
<g fill="#c23b3f"><circle cx="103" cy="648.2" r="1.8"/><circle cx="99" cy="651.3" r="1.8"/><circle cx="106" cy="654.5" r="1.8"/><circle cx="100" cy="657.2" r="1.8"/><circle cx="104" cy="659" r="1.8"/></g>
<g stroke="#c23b3f" stroke-width="1"><path d="M102,650.9V658.1M97,650.9H107M97,658.1H107"/></g>
<g fill="#9cc45c"><path d="M137,730l1.8,3h-3.6zM133,733.2l1.8,3h-3.6zM141,735.4l1.8,3h-3.6zM135,736.8l1.8,3h-3.6zM139,737.7l1.8,3h-3.6z"/></g>
<g stroke="#9cc45c" stroke-width="1"><path d="M137,732.2V739.5M132,732.2H142M132,739.5H142"/></g>
<g fill="#e0a070"><path d="M173,705l1.8,3h-3.6zM169,707.2l1.8,3h-3.6zM176,708.6l1.8,3h-3.6zM170,710l1.8,3h-3.6zM175,711.8l1.8,3h-3.6z"/></g>
<g stroke="#e0a070" stroke-width="1"><path d="M172,706.5V713.3M167,706.5H177M167,713.3H177"/></g>
<g stroke="#000" stroke-width="1.6"><path d="M56,705.6H78M91,654.5H113M126,735.9H148M161,710.1H183"/></g>
<g fill="none" stroke="#555" stroke-width="1"><path d="M67,643V636H118V646M118,639H172V645M102,646H133"/></g>
<text x="88" y="634" class="b" font-size="13">*</text>
<text x="141" y="639" class="b" font-size="13">*</text>
<g class="b" font-size="9">
<text x="48" y="761" textLength="31" lengthAdjust="spacingAndGlyphs">Vehicle</text>
<text x="92" y="761" textLength="16" lengthAdjust="spacingAndGlyphs">BT2</text>
<text x="117" y="761" textLength="25" lengthAdjust="spacingAndGlyphs">CB839</text>
<text x="145" y="761" textLength="52" lengthAdjust="spacingAndGlyphs">CB839+BT2</text>
</g>

<!-- ================= PANEL N ================= -->
<text x="197" y="616" class="b" font-size="14">N</text>
<path d="M235,620V746H380" fill="none" stroke="#000" stroke-width="1.2"/>
<g stroke="#000"><path d="M232,620H235M232,645.2H235M232,670.4H235M232,695.6H235M232,720.8H235M232,746H235M260,746V749M293,746V749M328,746V749M363,746V749"/></g>
<g class="b" font-size="7" text-anchor="end"><text x="231" y="622.5">1000</text><text x="231" y="647.7">800</text><text x="231" y="673">600</text><text x="231" y="698">400</text><text x="231" y="723.3">200</text><text x="231" y="748.5">0</text></g>
<text transform="translate(216,680) rotate(-90)" class="b" font-size="9" text-anchor="middle">Plasma BCAA(μmol/L)</text>
<g fill="#4a6aa0"><path d="M256,645l1.6,2.6h-3.2zM263,646.2l1.6,2.6h-3.2zM252,647.5l1.6,2.6h-3.2zM267,648.7l1.6,2.6h-3.2zM259,650l1.6,2.6h-3.2zM254,650.6l1.6,2.6h-3.2zM265,651.9l1.6,2.6h-3.2zM261,652.5l1.6,2.6h-3.2z"/></g>
<g stroke="#4a6aa0" stroke-width="1"><path d="M260,647V654.6M255,647H265M255,654.6H265"/></g>
<g fill="#c23b3f"><rect x="289" y="668.9" width="3" height="3"/><rect x="296" y="670.2" width="3" height="3"/><rect x="286" y="672.1" width="3" height="3"/><rect x="299" y="673.3" width="3" height="3"/><rect x="292" y="674.6" width="3" height="3"/><rect x="288" y="676.5" width="3" height="3"/><rect x="292" y="680.2" width="3" height="3"/></g>
<g stroke="#c23b3f" stroke-width="1"><path d="M293,670.4V679.2M288,670.4H298M288,679.2H298"/></g>
<g fill="#9cc45c"><path d="M328,657.5l1.6,2.6h-3.2zM324,662.5l1.6,2.6h-3.2zM332,666.3l1.6,2.6h-3.2zM326,668.2l1.6,2.6h-3.2zM331,670.1l1.6,2.6h-3.2zM323,672.6l1.6,2.6h-3.2zM329,673.8l1.6,2.6h-3.2z"/></g>
<g stroke="#9cc45c" stroke-width="1"><path d="M328,664.1V675.4M323,664.1H333M323,675.4H333"/></g>
<g fill="#e0b060"><path d="M363,672.6l1.6,2.6h-3.2zM359,681.4l1.6,2.6h-3.2zM367,686.4l1.6,2.6h-3.2zM362,689l1.6,2.6h-3.2zM356,692.7l1.6,2.6h-3.2zM368,695.3l1.6,2.6h-3.2zM361,696.5l1.6,2.6h-3.2z"/></g>
<g stroke="#e0b060" stroke-width="1"><path d="M363,683V698.1M358,683H368M358,698.1H368"/></g>
<g stroke="#000" stroke-width="1.6"><path d="M249,650.9H271M282,674.8H304M317,669.8H339M352,690.6H374"/></g>
<g fill="none" stroke="#555" stroke-width="1"><path d="M260,643V639H311V653M311,647H363V655M295,653H328"/></g>
<text x="281" y="640" class="b" font-size="13">*</text>
<text x="334" y="646" class="b" font-size="13">*</text>
<g class="b" font-size="9">
<text x="245" y="761" textLength="28" lengthAdjust="spacingAndGlyphs">Vehicle</text>
<text x="287" y="761" textLength="15" lengthAdjust="spacingAndGlyphs">BT2</text>
<text x="312" y="761" textLength="26" lengthAdjust="spacingAndGlyphs">CB839</text>
<text x="340" y="761" textLength="48" lengthAdjust="spacingAndGlyphs">CB839+BT2</text>
</g>

<!-- ================= PANEL O ================= -->
<text x="386" y="616" class="b" font-size="14">O</text>
<g class="b" font-size="8.5" text-anchor="middle"><text x="468" y="616">Vehicle</text><text x="504" y="616">BT2</text><text x="544" y="616">CB839</text><text x="593" y="616">CB839+BT2</text></g>
<path d="M452,619H485M490,619H522M530,619H560M570,619H610" stroke="#555" stroke-width="1"/>
<g class="b" font-size="8.5" text-anchor="middle">
<text x="452" y="629">1</text><text x="465" y="629">2</text><text x="477" y="629">3</text><text x="493" y="629">1</text><text x="507" y="629">2</text><text x="519" y="629">3</text><text x="535" y="629">1</text><text x="546" y="629">2</text><text x="557" y="629">3</text><text x="573" y="629">1</text><text x="585" y="629">2</text><text x="596" y="629">3</text>
</g>
<g fill="#f7f7f7" stroke="#000" stroke-width="1"><rect x="443" y="630" width="164" height="18"/><rect x="443" y="650" width="164" height="15"/><rect x="443" y="667" width="164" height="15"/><rect x="443" y="685" width="164" height="15"/><rect x="443" y="703" width="164" height="17"/><rect x="443" y="722" width="164" height="17"/><rect x="443" y="742" width="164" height="16"/></g>
<g fill="#111" filter="url(#bl)">
<ellipse cx="452" cy="639" rx="5" ry="3"/><ellipse cx="465" cy="639" rx="5" ry="3.2"/><ellipse cx="477" cy="639" rx="5.5" ry="3.5"/><ellipse cx="493" cy="640" rx="4.5" ry="1.8" opacity="0.4"/><ellipse cx="507" cy="640" rx="4.5" ry="1.8" opacity="0.45"/><ellipse cx="519" cy="640" rx="4.5" ry="1.8" opacity="0.45"/><ellipse cx="535" cy="639" rx="5" ry="2.5" opacity="0.75"/><ellipse cx="546" cy="639" rx="5" ry="2.5" opacity="0.75"/><ellipse cx="557" cy="639" rx="5" ry="2.8" opacity="0.8"/><ellipse cx="573" cy="640" rx="4.5" ry="2.2" opacity="0.6"/><ellipse cx="585" cy="640" rx="4.5" ry="2" opacity="0.5"/><ellipse cx="596" cy="640" rx="4.5" ry="2" opacity="0.45"/>
<ellipse cx="452" cy="658" rx="5.5" ry="2"/><ellipse cx="465" cy="658" rx="5.5" ry="2"/><ellipse cx="477" cy="658" rx="5.5" ry="2"/><ellipse cx="493" cy="658" rx="5.5" ry="2.2"/><ellipse cx="507" cy="658" rx="5.5" ry="2.4"/><ellipse cx="519" cy="658" rx="5.5" ry="2.4"/><ellipse cx="535" cy="658" rx="5.5" ry="2"/><ellipse cx="546" cy="658" rx="5.5" ry="2.2"/><ellipse cx="557" cy="658" rx="5.5" ry="2.5"/><ellipse cx="573" cy="658" rx="5.5" ry="2.5"/><ellipse cx="585" cy="658" rx="5.5" ry="2.2"/><ellipse cx="596" cy="658" rx="5.5" ry="2"/>
<ellipse cx="452" cy="674" rx="5.5" ry="5" opacity="0.85"/><ellipse cx="465" cy="674" rx="5.5" ry="5" opacity="0.85"/><ellipse cx="477" cy="674" rx="5.5" ry="5.5"/><ellipse cx="493" cy="674" rx="5.5" ry="5" opacity="0.75"/><ellipse cx="507" cy="674" rx="5.5" ry="4.5" opacity="0.6"/><ellipse cx="519" cy="674" rx="5.5" ry="5" opacity="0.75"/><ellipse cx="535" cy="674" rx="5" ry="4" opacity="0.45"/><ellipse cx="546" cy="674" rx="5" ry="4" opacity="0.25"/><ellipse cx="557" cy="674" rx="5" ry="4" opacity="0.3"/><ellipse cx="573" cy="674" rx="5" ry="4" opacity="0.25"/><ellipse cx="585" cy="675" rx="5" ry="4" opacity="0.2"/><ellipse cx="596" cy="675" rx="5" ry="4" opacity="0.2"/>
<ellipse cx="452" cy="692" rx="6" ry="5.5"/><ellipse cx="465" cy="692" rx="6" ry="5"/><ellipse cx="477" cy="692" rx="6" ry="5.5"/><ellipse cx="493" cy="692" rx="6" ry="5.5"/><ellipse cx="507" cy="692" rx="6" ry="5.5"/><ellipse cx="519" cy="692" rx="6" ry="5.5"/><ellipse cx="535" cy="692" rx="6" ry="5" opacity="0.85"/><ellipse cx="546" cy="692" rx="6" ry="5" opacity="0.85"/><ellipse cx="557" cy="692" rx="6" ry="5.5"/><ellipse cx="573" cy="692" rx="6" ry="5.5"/><ellipse cx="585" cy="692" rx="6" ry="5"/><ellipse cx="596" cy="691" rx="6" ry="5.5"/>
<ellipse cx="452" cy="712" rx="5.5" ry="2.8"/><ellipse cx="465" cy="712" rx="5.5" ry="2.8"/><ellipse cx="477" cy="712" rx="5.5" ry="2.8"/><ellipse cx="493" cy="711" rx="5.5" ry="3"/><ellipse cx="507" cy="712" rx="5.5" ry="2.8"/><ellipse cx="519" cy="711" rx="5" ry="2.8"/><ellipse cx="535" cy="712" rx="4.5" ry="1.8" opacity="0.35"/><ellipse cx="546" cy="713" rx="4.5" ry="1.8" opacity="0.3"/><ellipse cx="557" cy="713" rx="3.5" ry="1.5" opacity="0.15"/><ellipse cx="573" cy="712" rx="4" ry="1.5" opacity="0.15"/><ellipse cx="585" cy="712" rx="4" ry="1.8" opacity="0.25"/><ellipse cx="596" cy="711" rx="4" ry="1.8" opacity="0.12"/>
<ellipse cx="452" cy="730" rx="5.5" ry="3"/><ellipse cx="465" cy="731" rx="5.5" ry="2.8"/><ellipse cx="477" cy="731" rx="5.5" ry="3"/><ellipse cx="493" cy="731" rx="5.5" ry="3"/><ellipse cx="507" cy="731" rx="5.5" ry="3"/><ellipse cx="519" cy="731" rx="5.5" ry="3"/><ellipse cx="535" cy="731" rx="5.5" ry="3"/><ellipse cx="546" cy="731" rx="5.5" ry="3"/><ellipse cx="557" cy="730" rx="5.5" ry="3.3"/><ellipse cx="573" cy="730" rx="5.5" ry="3.3"/><ellipse cx="585" cy="731" rx="5.5" ry="3"/><ellipse cx="596" cy="730" rx="5.5" ry="3.3"/>
<ellipse cx="452" cy="750" rx="5.5" ry="2"/><ellipse cx="465" cy="750" rx="5.5" ry="2.2"/><ellipse cx="477" cy="750" rx="5.5" ry="2"/><ellipse cx="493" cy="750" rx="5.5" ry="2"/><ellipse cx="507" cy="750" rx="5.5" ry="2"/><ellipse cx="519" cy="750" rx="5.5" ry="2"/><ellipse cx="535" cy="750" rx="5.5" ry="2"/><ellipse cx="546" cy="750" rx="5.5" ry="2"/><ellipse cx="557" cy="750" rx="5.5" ry="2"/><ellipse cx="573" cy="750" rx="5.5" ry="2"/><ellipse cx="585" cy="750" rx="5.5" ry="2"/><ellipse cx="596" cy="750" rx="5.5" ry="2"/>
</g>
<g class="b" font-size="8.5" text-anchor="end"><text x="441" y="643">pBCKDHA</text><text x="441" y="661">BCKDHA</text><text x="441" y="678">pS6K</text><text x="441" y="696">S6K</text><text x="441" y="716">pS6</text><text x="441" y="734">S6</text><text x="441" y="753">β-actin</text></g>
<g stroke="#000" stroke-width="1"><path d="M607,643H611M607,663H611M607,670H611M607,686H611M607,711H611M607,732H611M607,754H611"/></g>
<g font-size="9" class="n"><text x="611" y="646">40</text><text x="611" y="666">40</text><text x="611" y="673">70</text><text x="611" y="689">70</text><text x="611" y="714">35</text><text x="611" y="735">3</text><text x="611" y="757">40</text></g>
<text x="618" y="741" font-size="20" fill="#c6c6c6" class="n" style='font-family:"Noto Sans CJK SC","WenQuanYi Zen Hei",sans-serif'>知乎 @i米立</text>
</svg>
</body></html>
